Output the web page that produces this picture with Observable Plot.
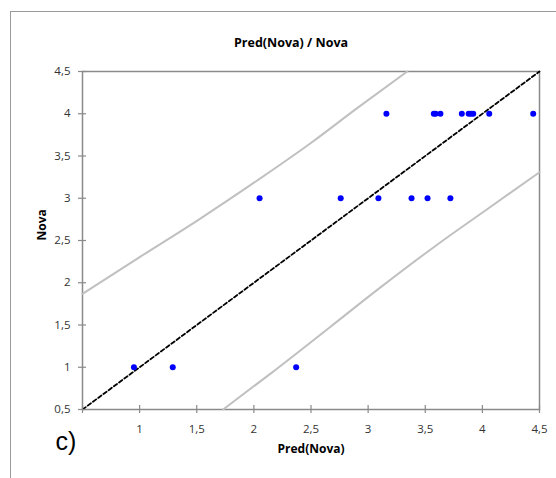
<!DOCTYPE html>
<html>
<head>
<meta charset="utf-8">
<script src="https://cdn.jsdelivr.net/npm/d3@7"></script>
<script src="https://cdn.jsdelivr.net/npm/@observablehq/plot@0.6"></script>
<style>
  html, body { margin: 0; padding: 0; background: #fff; }
  #wrap { position: relative; width: 556px; height: 478px; overflow: hidden; }
  #border { position: absolute; left: 10px; top: 11px; width: 600px; height: 600px;
            border-left: 1px solid #9a9a9a; border-top: 1px solid #9a9a9a; }
  #chart { position: absolute; left: 0; top: 0; }
</style>
</head>
<body>
<div id="wrap"><div id="border"></div><div id="chart"></div></div>
<script>
const title = "Pred(Nova) / Nova";
const xLabel = "Pred(Nova)";
const yLabel = "Nova";
const panelTag = "c)";
const ticks = [0.5, 1, 1.5, 2, 2.5, 3, 3.5, 4, 4.5];

// Observations: predicted vs. observed
const predicted = [3.16, 3.575, 3.59, 3.633, 3.82, 3.88, 3.90, 3.92, 4.06, 4.445,
                   2.05, 2.76, 3.09, 3.38, 3.52, 3.72,
                   0.95, 1.29, 2.37];
const observed  = [4, 4, 4, 4, 4, 4, 4, 4, 4, 4,
                   3, 3, 3, 3, 3, 3,
                   1, 1, 1];

// Identity line
const identityX = [0.5, 4.5];
const identityY = [0.5, 4.5];

// Upper and lower interval bands
const upperX = [0.5, 0.99, 1.515, 2.029, 2.496, 2.904, 3.342];
const upperY = [1.869, 2.295, 2.745, 3.210, 3.651, 4.066, 4.5];
const lowerX = [1.731, 2.146, 2.671, 3.108, 3.634, 4.042, 4.5];
const lowerY = [0.5, 0.925, 1.48, 1.945, 2.48, 2.87, 3.308];

const points = predicted.map((p, i) => ({x: p, y: observed[i]}));
const identity = identityX.map((x, i) => ({x, y: identityY[i]}));
const upper = upperX.map((x, i) => ({x, y: upperY[i]}));
const lower = lowerX.map((x, i) => ({x, y: lowerY[i]}));

const fmt = d => String(d).replace(".", ",");
const font = "'Open Sans', 'Liberation Sans', sans-serif";

const chart = Plot.plot({
  width: 556,
  height: 478,
  marginLeft: 82,
  marginRight: 17,
  marginTop: 71,
  marginBottom: 69,
  style: {fontFamily: font, background: "transparent", overflow: "visible"},
  x: {domain: [0.5, 4.5]},
  y: {domain: [0.5, 4.5]},
  marks: [
    Plot.frame({stroke: "#8a8a8a", strokeWidth: 1.5}),
    Plot.line(upper, {x: "x", y: "y", stroke: "#c0c0c0", strokeWidth: 2, curve: "monotone-x"}),
    Plot.line(lower, {x: "x", y: "y", stroke: "#c0c0c0", strokeWidth: 2, curve: "monotone-x"}),
    Plot.line(identity, {x: "x", y: "y", stroke: "#000", strokeWidth: 1.8, strokeDasharray: "4,2.5"}),
    Plot.dot(points, {x: "x", y: "y", r: 3, fill: "#0000ff", stroke: "none"}),
    // crossing tick marks
    Plot.axisX({ticks, anchor: "bottom", tickSize: 8, dy: -4, text: null, label: null, stroke: "#8a8a8a", strokeWidth: 1.2}),
    Plot.axisY({ticks, anchor: "left", tickSize: 8, dx: 4, text: null, label: null, stroke: "#8a8a8a", strokeWidth: 1.2}),
    Plot.axisX({ticks: ticks.slice(1), anchor: "bottom", tickSize: 0, tickPadding: 15, tickFormat: fmt, label: null,
                fontSize: 11.5, fill: "#333"}),
    Plot.axisY({ticks, anchor: "left", tickSize: 0, tickPadding: 12, tickFormat: fmt, label: null,
                fontSize: 11.5, fill: "#333"}),
    Plot.text([title], {frameAnchor: "top", dx: -20, dy: -33, fontSize: 12.5, fontWeight: "bold", fill: "#000"}),
    Plot.text([xLabel], {frameAnchor: "bottom", dy: 43, fontSize: 12, fontWeight: "bold", fill: "#000"}),
    Plot.text([yLabel], {frameAnchor: "left", dx: -40, rotate: -90, fontSize: 12, fontWeight: "bold", fill: "#000"}),
    Plot.text([panelTag], {frameAnchor: "bottom-left", dx: -27, dy: 40, fontSize: 25, fill: "#000",
                           fontFamily: "'Liberation Sans', Arial, sans-serif"})
  ]
});
document.getElementById("chart").appendChild(chart);
</script>
</body>
</html>
